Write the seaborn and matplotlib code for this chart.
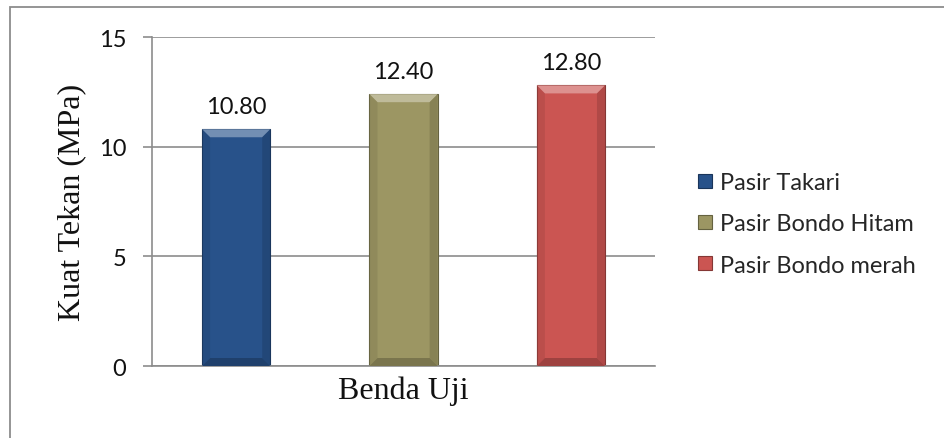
import matplotlib
matplotlib.use("Agg")
import matplotlib.pyplot as plt
from matplotlib.patches import Polygon, Rectangle
from matplotlib.lines import Line2D
import matplotlib.colors as mcolors
import seaborn as sns
import pandas as pd

# Data
sampel = ["Pasir Takari", "Pasir Bondo Hitam", "Pasir Bondo merah"]
kuat_tekan = [10.80, 12.40, 12.80]
y_ticks = [0, 5, 10, 15]
warna = ["#28528A", "#9C9663", "#CB5552"]

sns.set_theme(style="white")
plt.rcParams["font.family"] = ["Lato", "DejaVu Sans"]

df = pd.DataFrame({"Sampel": sampel, "Kuat": kuat_tekan})

fig = plt.figure(figsize=(9.44, 4.39), dpi=100)
ax = fig.add_axes([0.161, 0.164, 0.533, 0.749])

sns.barplot(data=df, x="Sampel", y="Kuat", hue="Sampel", palette=warna,
            width=0.407, dodge=False, legend=False, ax=ax, saturation=1)

ax.set_ylim(0, 15)
ax.set_xlim(-0.503, 2.503)
ax.set_yticks(y_ticks)
ax.set_yticklabels([str(t) for t in y_ticks], fontsize=17, color="#111111")
ax.set_xticks([])
ax.yaxis.grid(True, color="#8C8C8C", linewidth=1.2)
ax.set_axisbelow(True)
for s in ["top", "right"]:
    ax.spines[s].set_visible(False)
for s in ["left", "bottom"]:
    ax.spines[s].set_color("#8C8C8C")
    ax.spines[s].set_linewidth(1.2)
ax.tick_params(axis="y", which="both", left=True, length=6.5, width=1.2,
               color="#8C8C8C", pad=12)

ax.set_ylabel("Kuat Tekan (MPa)", family="Liberation Serif", fontsize=23,
              color="#111111", labelpad=9)
ax.set_xlabel("Benda Uji", family="Liberation Serif", fontsize=23,
              color="#111111", labelpad=7)

# Bevelled look on each bar, derived from the bar geometry
px_x = 0.407 / 68.0
px_y = 15.0 / 329.0
bev_x, bev_y = 8 * px_x, 8 * px_y
for patch, c, v in zip(ax.patches, warna, kuat_tekan):
    x0 = patch.get_x()
    w = patch.get_width()
    x1 = x0 + w
    h = patch.get_height()
    rgb = mcolors.to_rgb(c)
    light = tuple(min(1, ch + (1 - ch) * 0.35) for ch in rgb)
    dark = tuple(ch * 0.78 for ch in rgb)
    darker = tuple(ch * 0.65 for ch in rgb)
    patch.set_edgecolor(darker)
    patch.set_linewidth(0.8)
    ax.add_patch(Polygon([(x0, h), (x1, h), (x1 - bev_x, h - bev_y), (x0 + bev_x, h - bev_y)],
                         closed=True, facecolor=light, edgecolor="none", zorder=3))
    ax.add_patch(Polygon([(x0, 0), (x1, 0), (x1 - bev_x, bev_y), (x0 + bev_x, bev_y)],
                         closed=True, facecolor=dark, edgecolor="none", zorder=3))
    ax.add_patch(Polygon([(x1, 0), (x1, h), (x1 - bev_x, h - bev_y), (x1 - bev_x, bev_y)],
                         closed=True, facecolor=dark, edgecolor="none", alpha=0.6, zorder=3))
    ax.add_patch(Polygon([(x0, 0), (x0, h), (x0 + bev_x, h - bev_y), (x0 + bev_x, bev_y)],
                         closed=True, facecolor=dark, edgecolor="none", alpha=0.35, zorder=3))
    ax.annotate(f"{v:.2f}", xy=(x0 + w / 2, h), xytext=(0, 9),
                textcoords="offset points", ha="center", va="bottom",
                fontsize=17, color="#111111")

# Legend
handles = [Line2D([0], [0], marker="s", linestyle="none", markersize=10.5,
                  markerfacecolor=c, markeredgecolor=tuple(ch * 0.65 for ch in mcolors.to_rgb(c)),
                  markeredgewidth=0.8)
           for c in warna]
fig.legend(handles, sampel, loc="center left", bbox_to_anchor=(0.738, 0.4875),
           frameon=False, fontsize=17, handletextpad=0.3, labelspacing=0.85,
           handlelength=0.7, borderaxespad=0, borderpad=0)

# Chart frame (top and left edges visible)
fig.add_artist(Rectangle((10 / 944, -0.1), 1.2, 1 - 8 / 439 + 0.1,
                         transform=fig.transFigure, fill=False,
                         edgecolor="#8C8C8C", linewidth=1.3))

fig.savefig("out.png", dpi=100)
